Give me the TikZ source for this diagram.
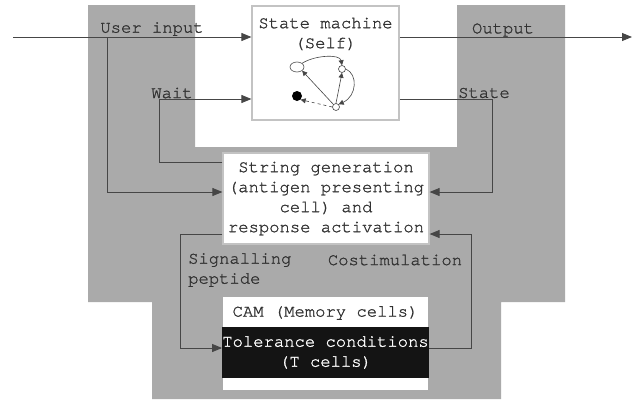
\documentclass[tikz,border=0pt]{standalone}
\usepackage{fontspec}
\setmonofont{TeX Gyre Cursor}[FakeBold=1.2]
\usetikzlibrary{arrows.meta,shapes.geometric}
\definecolor{bggray}{RGB}{170,170,170}
\definecolor{linec}{RGB}{70,70,70}
\definecolor{txtc}{RGB}{50,50,50}
\definecolor{boxedge}{RGB}{195,195,195}
\begin{document}
\begin{tikzpicture}[x=1pt,y=-1pt,
  lbl/.style={font=\ttfamily\fontsize{17.2}{20}\selectfont, text=txtc, inner sep=0pt, align=center},
  conn/.style={draw=linec, line width=0.9pt},
  arr/.style={conn, -{Triangle[length=10pt,width=8pt]}},
  wbox/.style={draw=boxedge, line width=1.2pt, fill=white, inner sep=0pt},
  sarr/.style={draw=linec, line width=0.6pt, -{Triangle[length=5pt,width=5pt]}},
]
\useasboundingbox (0,0) rectangle (642,405);
\fill[bggray] (88,5) -- (195,5) -- (195,147) -- (457,147) -- (457,5) -- (565,5) -- (565,302) -- (501,302) -- (501,399) -- (152,399) -- (152,302) -- (88,302) -- cycle;

% boxes
\node[wbox, minimum width=147pt, minimum height=114pt] (sm) at (325.5,63) {};
\node[lbl] (smt) at (325.5,34) {State machine\\(Self)};
\node[wbox, lbl, minimum width=206pt, minimum height=91pt] (sg) at (326,198.5) {String generation\\(antigen presenting\\cell) and\\response activation};
\node[fill=white, inner sep=0pt, minimum width=205pt, minimum height=93pt] (mem) at (325.5,343.5) {};
\node[lbl] (camt) at (325.5,313) {CAM (Memory cells)};
\node[lbl, fill=black!92, text=white, minimum width=205pt, minimum height=51pt] (tol) at (325.5,352.5) {Tolerance conditions\\(T cells)};

% small state diagram
\node[draw=linec, line width=0.6pt, ellipse, minimum width=14pt, minimum height=10pt, inner sep=0pt] (qa) at (297,67) {};
\node[fill=black, circle, minimum size=10pt, inner sep=0pt] (qc) at (297,96) {};
\node[draw=linec, line width=0.6pt, circle, minimum size=7pt, inner sep=0pt] (qb) at (342,69) {};
\node[draw=linec, line width=0.6pt, circle, minimum size=7pt, inner sep=0pt] (qd) at (336,107) {};
\draw[sarr] (qa.north east) .. controls (315,55) and (340,54) .. (qb.north);
\draw[sarr] (qd.north) -- (qb.south);
\draw[sarr] (qd.north west) -- (qa.south east);
\draw[sarr] (qb.east) .. controls (358,74) and (357,96) .. (qd.north east);
\draw[sarr, dashed] (qd.west) -- (qc.south east);

% coordinates
\coordinate (uin) at (13,37);
\coordinate (ub) at (107,37);
\coordinate (y192) at (0,192);
\coordinate (w) at (159,99);
\coordinate (y162) at (0,162);
\coordinate (outp) at (632,37);
\coordinate (st) at (492,99);
\coordinate (y234) at (0,234);
\coordinate (sp) at (180,348);
\coordinate (cs) at (471,348);

% connectors
\draw[arr] (uin) -- (uin -| sm.west);
\draw[arr] (ub) |- (sg.west |- y192);
\draw[arr] (sg.west |- y162) -| (w) -- (w -| sm.west);
\draw[arr] (sm.east |- uin) -- (outp);
\draw[arr] (sm.east |- st) -- (st) |- (sg.east |- y192);
\draw[arr] (sg.west |- y234) -| (sp) -- (tol.west |- sp);
\draw[arr] (tol.east |- cs) -- (cs) |- (sg.east |- y234);

% labels
\node[lbl] (lui) at (152,29) {User input};
\node[lbl] (lw) at (172,93) {Wait};
\node[lbl] (lo) at (503,30) {Output};
\node[lbl] (ls) at (484,93) {State};
\node[lbl, anchor=west] (lsig) at (188,260) {Signalling};
\node[lbl, anchor=west] (lpep) at (188,280) {peptide};
\node[lbl] (lcos) at (395,260) {Costimulation};
\end{tikzpicture}
\end{document}
